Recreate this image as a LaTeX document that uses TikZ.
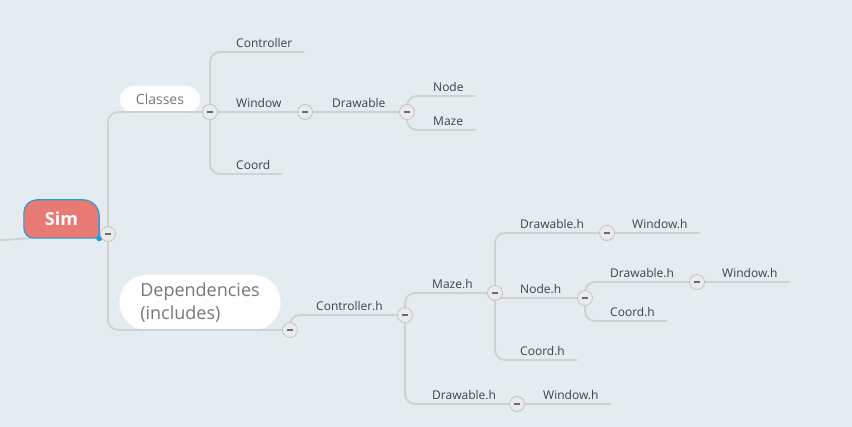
\documentclass[tikz,border=0pt]{standalone}
\usepackage{fontspec}
\setmainfont{Open Sans}
\usetikzlibrary{positioning,backgrounds,shapes.misc}
\definecolor{paper}{HTML}{E4ECF0}
\definecolor{twig}{HTML}{CDD2D5}
\definecolor{ink}{HTML}{3E434A}
\definecolor{softink}{HTML}{74787C}
\definecolor{simred}{HTML}{E77B73}
\definecolor{simblue}{HTML}{1E9BE6}
\definecolor{btnfill}{HTML}{EBEBEB}
\definecolor{btnedge}{HTML}{C2C5C7}
\definecolor{btnmark}{HTML}{6A6D70}
\pgfdeclarelayer{lines}
\pgfsetlayers{background,lines,main}

\begin{document}
\begin{tikzpicture}[x=1pt, y=-1pt, font=\fontsize{12}{14}\selectfont]
\tikzstyle{topic}=[anchor=south west, inner xsep=12pt, inner ysep=4pt, text depth=0pt, text=ink]
\tikzstyle{btn}=[circle, minimum size=15pt, inner sep=0pt, fill=btnfill, draw=btnedge, line width=0.8pt,
  path picture={\draw[line width=1.8pt, btnmark] ([xshift=-3.2pt]path picture bounding box.center) -- ([xshift=3.2pt]path picture bounding box.center);}]
\tikzstyle{branch}=[draw=twig, line width=1.8pt, rounded corners=10pt]
\tikzstyle{pill}=[rounded rectangle, fill=white, draw=white!90!twig, line width=0.6pt, text=softink, inner sep=0pt]
\tikzstyle{simtag}=[minimum width=75pt, minimum height=38pt, inner sep=0pt, text=white, font=\fontsize{18}{20}\bfseries\selectfont]
\useasboundingbox (0,0) rectangle (852,427);

% root
\node[simtag] (sim) at (61.5,219) {Sim};
\coordinate (root) at (0,240);
\node[btn] (bSim) at (108,234) {};

% classes
\node[btn] (bCls) at (210,112) {};
\node[topic] (ctl) at (224,52) {Controller};
\node[topic] (win) at (224,112) {Window};
\node[topic] (crd) at (224,174) {Coord};
\node[btn] (bWin) at (305,112) {};
\node[topic] (drw) at (320,112) {Drawable};
\node[btn] (bDrw) at (407,112) {};
\node[topic] (nod) at (421,96) {Node};
\node[topic] (maz) at (421,130) {Maze};

% dependencies
\node[btn] (bDep) at (290,330) {};
\node[topic] (ctlh) at (304,315) {Controller.h};
\node[btn] (bCtlh) at (405,315) {};
\node[topic] (mazh) at (420,293) {Maze.h};
\node[btn] (bMazh) at (495,293) {};
\node[topic] (drwhA) at (420,404) {Drawable.h};
\node[btn] (bDrwhA) at (517,404) {};
\node[topic] (winhA) at (531,404) {Window.h};
\node[topic] (drwhB) at (508,233) {Drawable.h};
\node[btn] (bDrwhB) at (607,233) {};
\node[topic] (winhB) at (620,233) {Window.h};
\node[topic] (nodh) at (508,298) {Node.h};
\node[btn] (bNodh) at (585,298) {};
\node[topic] (crdhA) at (508,360) {Coord.h};
\node[topic] (drwhC) at (598,282) {Drawable.h};
\node[btn] (bDrwhC) at (697,282) {};
\node[topic] (winhC) at (710,282) {Window.h};
\node[topic] (crdhB) at (598,321) {Coord.h};

\begin{pgfonlayer}{background}
\fill[paper] (0,0) rectangle (852,427);
\draw[branch] (root) to[out=0, in=180] ([xshift=10pt]sim.south west);
\node[pill, minimum width=80pt, minimum height=27pt, font=\fontsize{14}{16}\selectfont] (cls) at (160,99.5) {Classes};
\node[pill, minimum width=161pt, minimum height=55pt, align=left, font=\fontsize{18}{23}\selectfont] (dep) at (200,302.5) {Dependencies\\(includes)};
\end{pgfonlayer}

\begin{pgfonlayer}{lines}
\filldraw[fill=simred, draw=simblue, line width=1.1pt] (sim.south east) -- ([xshift=10pt]sim.south west)
  .. controls ([xshift=4.5pt]sim.south west) and ([yshift=4.5pt]sim.south west) .. ([yshift=10pt]sim.south west)
  -- ([yshift=-13pt]sim.north west)
  .. controls ([yshift=-5.8pt]sim.north west) and ([xshift=5.8pt]sim.north west) .. ([xshift=13pt]sim.north west)
  -- ([xshift=-16pt]sim.north east)
  .. controls ([xshift=-7.2pt]sim.north east) and ([yshift=-7.2pt]sim.north east) .. ([yshift=-16pt]sim.north east)
  -- cycle;
\fill[simblue] (sim.south east) circle (3);
\draw[branch] (bSim.center) |- (bCls.center);
\draw[branch] (bSim.center) |- (bDep.center);
% classes
\draw[branch] (bCls.center) |- (ctl.south east);
\draw[branch] (bCls.center) -- (bWin.center) -- (bDrw.center);
\draw[branch] (bCls.center) |- (crd.south east);
\draw[branch] (bDrw.center) |- (nod.south east);
\draw[branch] (bDrw.center) |- (maz.south east);
% dependencies
\draw[branch] (bDep.center) |- (bCtlh.center);
\draw[branch] (bCtlh.center) |- (bMazh.center);
\draw[branch] (bCtlh.center) |- (bDrwhA.center) -- (winhA.south east);
\draw[branch] (bMazh.center) |- (bDrwhB.center) -- (winhB.south east);
\draw[branch, rounded corners=3pt] (bMazh.center) |- (bNodh.center);
\draw[branch] (bMazh.center) |- (crdhA.south east);
\draw[branch] (bNodh.center) |- (bDrwhC.center) -- (winhC.south east);
\draw[branch] (bNodh.center) |- (crdhB.south east);
\end{pgfonlayer}
\end{tikzpicture}
\end{document}
